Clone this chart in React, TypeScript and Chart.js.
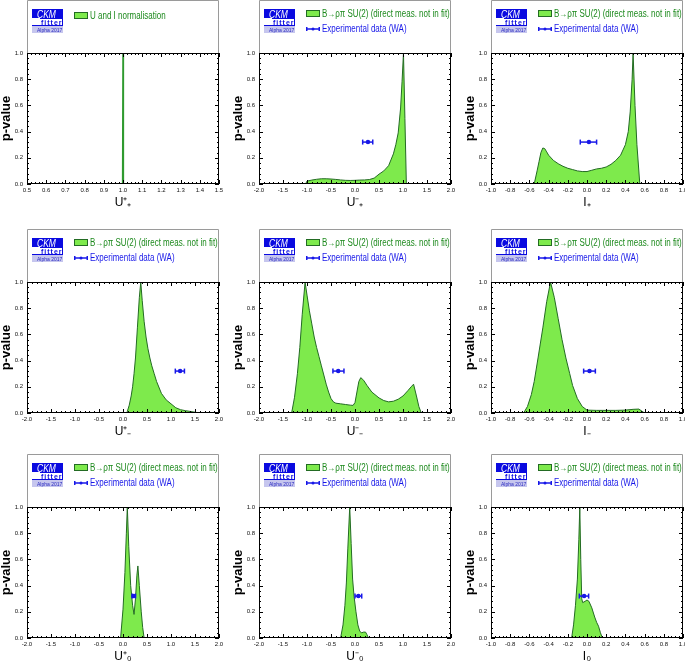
import React, { useEffect, useRef } from "react";
import { Chart, registerables } from "chart.js";

Chart.register(...registerables);
Chart.defaults.font.family = "'Liberation Sans', Arial, sans-serif";

// ---------- data ----------
const normX = [0.998, 1.0, 1.002];
const normY = [0, 1, 0];

const uMinusPlusX = [-1.03, -1.0, -0.9, -0.8, -0.7, -0.6, -0.5, -0.4, -0.3, -0.2, -0.1, 0.0, 0.1, 0.2, 0.3, 0.4, 0.5, 0.6, 0.7, 0.8, 0.85, 0.9, 0.95, 0.98, 1.01, 1.04, 1.07];
const uMinusPlusY = [0, 0.022, 0.03, 0.036, 0.04, 0.04, 0.038, 0.035, 0.031, 0.028, 0.027, 0.028, 0.03, 0.031, 0.034, 0.045, 0.075, 0.1, 0.14, 0.23, 0.3, 0.39, 0.58, 0.78, 1.0, 0.5, 0];

const iPlusX = [-0.55, -0.52, -0.5, -0.48, -0.46, -0.44, -0.42, -0.4, -0.35, -0.3, -0.25, -0.2, -0.15, -0.1, -0.05, 0.0, 0.05, 0.1, 0.15, 0.2, 0.25, 0.3, 0.35, 0.4, 0.43, 0.45, 0.47, 0.48, 0.5, 0.52, 0.55];
const iPlusY = [0, 0.1, 0.17, 0.24, 0.275, 0.27, 0.245, 0.22, 0.18, 0.155, 0.135, 0.12, 0.11, 0.1, 0.095, 0.095, 0.105, 0.115, 0.12, 0.13, 0.15, 0.18, 0.22, 0.3, 0.4, 0.55, 0.8, 1.0, 0.6, 0.3, 0];

const uPlusMinusX = [0.08, 0.13, 0.17, 0.2, 0.23, 0.26, 0.3, 0.34, 0.37, 0.4, 0.44, 0.48, 0.52, 0.56, 0.6, 0.65, 0.7, 0.8, 0.9, 1.0, 1.1, 1.2, 1.3, 1.4, 1.5, 1.6];
const uPlusMinusY = [0, 0.06, 0.13, 0.2, 0.3, 0.42, 0.65, 0.88, 1.0, 0.86, 0.7, 0.58, 0.49, 0.42, 0.36, 0.3, 0.24, 0.15, 0.1, 0.07, 0.04, 0.025, 0.018, 0.012, 0.006, 0];

const uMinusMinusX = [-1.32, -1.26, -1.2, -1.15, -1.1, -1.04, -1.0, -0.95, -0.9, -0.85, -0.8, -0.75, -0.7, -0.65, -0.6, -0.55, -0.5, -0.45, -0.4, -0.3, -0.2, -0.1, -0.04, 0.0, 0.04, 0.08, 0.12, 0.18, 0.25, 0.35, 0.5, 0.6, 0.7, 0.8, 0.9, 1.0, 1.1, 1.17, 1.22, 1.28, 1.33, 1.38];
const uMinusMinusY = [0, 0.12, 0.3, 0.5, 0.75, 1.0, 0.9, 0.78, 0.68, 0.58, 0.5, 0.43, 0.36, 0.29, 0.22, 0.16, 0.11, 0.085, 0.075, 0.07, 0.065, 0.06, 0.058, 0.08, 0.16, 0.24, 0.27, 0.25, 0.21, 0.16, 0.115, 0.095, 0.085, 0.09, 0.105, 0.13, 0.17, 0.2, 0.22, 0.13, 0.05, 0];

const iMinusX = [-0.66, -0.62, -0.58, -0.55, -0.51, -0.46, -0.42, -0.38, -0.34, -0.3, -0.26, -0.22, -0.18, -0.15, -0.1, -0.05, 0.0, 0.1, 0.2, 0.3, 0.4, 0.48, 0.54, 0.57, 0.6];
const iMinusY = [0, 0.05, 0.14, 0.24, 0.42, 0.65, 0.85, 1.0, 0.88, 0.72, 0.56, 0.42, 0.3, 0.21, 0.11, 0.05, 0.022, 0.02, 0.02, 0.02, 0.022, 0.028, 0.03, 0.015, 0];

const uPlusZeroX = [-0.05, 0.0, 0.04, 0.07, 0.09, 0.12, 0.16, 0.2, 0.23, 0.26, 0.29, 0.31, 0.34, 0.38, 0.41, 0.44];
const uPlusZeroY = [0, 0.22, 0.5, 0.8, 1.0, 0.7, 0.4, 0.25, 0.18, 0.3, 0.48, 0.55, 0.4, 0.2, 0.08, 0];

const uMinusZeroX = [-0.3, -0.25, -0.21, -0.18, -0.15, -0.11, -0.08, -0.05, -0.02, 0.02, 0.06, 0.1, 0.14, 0.18, 0.22, 0.25, 0.28];
const uMinusZeroY = [0, 0.1, 0.25, 0.42, 0.68, 1.0, 0.72, 0.45, 0.32, 0.2, 0.1, 0.05, 0.04, 0.045, 0.045, 0.025, 0];

const iZeroX = [-0.16, -0.14, -0.12, -0.1, -0.085, -0.075, -0.065, -0.055, -0.045, -0.02, 0.0, 0.02, 0.05, 0.08, 0.1, 0.12, 0.14, 0.16];
const iZeroY = [0, 0.1, 0.25, 0.45, 0.75, 1.0, 0.6, 0.3, 0.27, 0.28, 0.29, 0.28, 0.23, 0.16, 0.12, 0.09, 0.04, 0];

// experimental (WA) horizontal error bars
const expCenters = [null, 0.27, 0.02, 1.19, -0.35, 0.026, 0.22, 0.07, -0.03];
const expLows = [null, 0.16, -0.07, 1.09, -0.46, -0.035, 0.19, 0.0, -0.08];
const expHighs = [null, 0.37, 0.1, 1.28, -0.23, 0.087, 0.26, 0.14, 0.017];
const expLevel = 0.32;

// axes
const axisTitles = ["U⁺₊", "U⁻₊", "I₊", "U⁺₋", "U⁻₋", "I₋", "U⁺₀", "U⁻₀", "I₀"];
const xMins = [0.5, -2, -1, -2, -2, -1, -2, -2, -1];
const xMaxs = [1.5, 2, 1, 2, 2, 1, 2, 2, 1];
const xSteps = [0.1, 0.5, 0.2, 0.5, 0.5, 0.2, 0.5, 0.5, 0.2];
const yMin = 0;
const yMax = 1;
const yStep = 0.2;
const yTitle = "p-value";

// legend texts
const normLabel = "U and I normalisation";
const fitLabel = "B→ρπ SU(2) (direct meas. not in fit)";
const dataLabel = "Experimental data (WA)";
const logoTop = "CKM";
const logoMid = "fitter";
const logoBottom = "Alpha 2017";

const curvesX = [normX, uMinusPlusX, iPlusX, uPlusMinusX, uMinusMinusX, iMinusX, uPlusZeroX, uMinusZeroX, iZeroX];
const curvesY = [normY, uMinusPlusY, iPlusY, uPlusMinusY, uMinusMinusY, iMinusY, uPlusZeroY, uMinusZeroY, iZeroY];

// ---------- layout / style ----------
const PLOT_LEFTS = [27, 259, 491];
const PLOT_TOPS = [53, 282, 507];
const Y_AXIS_W = 27;
const X_AXIS_H = 30;
const LEG_H = 53;
const RIGHT_PAD = 8;
const PLOT_W = 192;
const PLOT_H = 131;
const CANVAS_W = Y_AXIS_W + PLOT_W + RIGHT_PAD;
const CANVAS_H = LEG_H + PLOT_H + X_AXIS_H;

const FILL = "rgb(126, 234, 76)";
const EDGE = "#236b23";
const BLUE = "#1818e8";
const GREEN_TEXT = "#1e8a1e";
const FONT = "'Liberation Sans', Arial, sans-serif";

function sqText(ctx: CanvasRenderingContext2D, text: string, x: number, y: number, sx: number) {
  ctx.save();
  ctx.translate(x, y);
  ctx.scale(sx, 1);
  ctx.fillText(text, 0, 0);
  ctx.restore();
}

function line(ctx: CanvasRenderingContext2D, x1: number, y1: number, x2: number, y2: number) {
  ctx.beginPath();
  ctx.moveTo(x1, y1);
  ctx.lineTo(x2, y2);
  ctx.stroke();
}

const decorPlugin = {
  id: "ckmDecor",
  afterDraw(chart: any, _args: any, opts: any) {
    const { ctx, chartArea: a } = chart;
    const xs = chart.scales.x;
    const ys = chart.scales.y;
    ctx.save();

    // legend-area frame
    ctx.strokeStyle = "#9a9a9a";
    ctx.lineWidth = 1;
    ctx.beginPath();
    ctx.moveTo(a.left + 0.5, a.top);
    ctx.lineTo(a.left + 0.5, 0.5);
    ctx.lineTo(a.right - 0.5, 0.5);
    ctx.lineTo(a.right - 0.5, a.top);
    ctx.stroke();

    // plot frame
    ctx.strokeStyle = "#000";
    ctx.strokeRect(a.left + 0.5, a.top + 0.5, a.width - 1, a.height - 1);

    // ROOT-like inward ticks
    ctx.lineWidth = 1;
    const xMinor = opts.xStep / 5;
    const nx = Math.round((opts.xMax - opts.xMin) / xMinor);
    for (let i = 0; i <= nx; i++) {
      const v = opts.xMin + i * xMinor;
      const px = Math.round(xs.getPixelForValue(v)) + 0.5;
      const len = i % 5 === 0 ? 4 : 2;
      line(ctx, px, a.bottom, px, a.bottom - len);
      line(ctx, px, a.top, px, a.top + len);
    }
    const yMinor = yStep / 5;
    const ny = Math.round((yMax - yMin) / yMinor);
    for (let i = 0; i <= ny; i++) {
      const v = yMin + i * yMinor;
      const py = Math.round(ys.getPixelForValue(v)) + 0.5;
      const len = i % 5 === 0 ? 4 : 2;
      line(ctx, a.left, py, a.left + len, py);
      line(ctx, a.right, py, a.right - len, py);
    }

    // legend: logo
    ctx.save();
    ctx.beginPath();
    ctx.rect(0, 0, a.right - 1, a.top);
    ctx.clip();
    const lx = a.left + 5;
    const ly = 9;
    const lw = 31;
    ctx.fillStyle = "#0a0ae0";
    ctx.fillRect(lx, ly, lw, 9);
    ctx.fillStyle = "#fff";
    ctx.font = `italic 10px ${FONT}`;
    ctx.textBaseline = "alphabetic";
    sqText(ctx, logoTop, lx + 5, ly + 8.5, 0.85);
    // fitter row
    ctx.fillStyle = "#fff";
    ctx.fillRect(lx, ly + 9, lw, 8);
    ctx.strokeStyle = "#0a0ae0";
    ctx.lineWidth = 1;
    line(ctx, lx + 8, ly + 9.5, lx + lw, ly + 9.5);
    line(ctx, lx, ly + 16.5, lx + lw, ly + 16.5);
    line(ctx, lx + lw - 0.5, ly + 9, lx + lw - 0.5, ly + 17);
    ctx.fillStyle = "#0a0ae0";
    ctx.font = `bold 7px ${FONT}`;
    (ctx as any).letterSpacing = "1px";
    ctx.fillText(logoMid, lx + 9, ly + 15.5);
    (ctx as any).letterSpacing = "0px";
    // alpha row
    ctx.fillStyle = "#c6c6ee";
    ctx.fillRect(lx, ly + 17, lw, 7);
    ctx.fillStyle = "#2b2bc0";
    ctx.font = `5px ${FONT}`;
    ctx.fillText(logoBottom, lx + 5, ly + 22.5);

    // legend entries
    const bx = a.left + 47;
    const tx = a.left + 63;
    ctx.textBaseline = "middle";
    ctx.font = `10px ${FONT}`;
    if (opts.kind === "norm") {
      ctx.fillStyle = FILL;
      ctx.fillRect(bx, 12, 14, 7);
      ctx.strokeStyle = EDGE;
      ctx.strokeRect(bx + 0.5, 12.5, 13, 6);
      ctx.fillStyle = GREEN_TEXT;
      sqText(ctx, normLabel, tx, 16, 0.8);
    } else {
      ctx.fillStyle = FILL;
      ctx.fillRect(bx, 10, 14, 7);
      ctx.strokeStyle = EDGE;
      ctx.strokeRect(bx + 0.5, 10.5, 13, 6);
      ctx.fillStyle = GREEN_TEXT;
      sqText(ctx, fitLabel, tx, 14, 0.8);
      // error bar symbol
      ctx.strokeStyle = BLUE;
      ctx.lineWidth = 1.5;
      line(ctx, bx, 29, bx + 14, 29);
      line(ctx, bx + 0.75, 27, bx + 0.75, 31);
      line(ctx, bx + 13.25, 27, bx + 13.25, 31);
      ctx.fillStyle = BLUE;
      ctx.beginPath();
      ctx.arc(bx + 7, 29, 1.5, 0, Math.PI * 2);
      ctx.fill();
      sqText(ctx, dataLabel, tx, 29, 0.8);
    }
    ctx.restore();
    ctx.restore();
  },
};

function buildConfig(i: number): any {
  const curve = curvesX[i].map((x, k) => ({ x, y: curvesY[i][k] }));
  const datasets: any[] = [];
  if (expCenters[i] !== null) {
    datasets.push({
      label: dataLabel,
      data: [
        { x: expLows[i], y: expLevel },
        { x: expCenters[i], y: expLevel },
        { x: expHighs[i], y: expLevel },
      ],
      borderColor: BLUE,
      backgroundColor: BLUE,
      borderWidth: 1.5,
      showLine: true,
      fill: false,
      pointStyle: ["line", "circle", "line"],
      pointRadius: [2.5, 1.5, 2.5],
      pointRotation: 90,
      pointBorderColor: BLUE,
      pointBackgroundColor: BLUE,
      pointBorderWidth: 1.5,
      order: 0,
    });
  }
  datasets.push({
    label: i === 0 ? normLabel : fitLabel,
    data: curve,
    borderColor: i === 0 ? "#2f9a2f" : EDGE,
    backgroundColor: FILL,
    borderWidth: i === 0 ? 1.5 : 1,
    fill: "origin",
    pointRadius: 0,
    tension: 0,
    order: 1,
  });

  return {
    type: "line",
    data: { datasets },
    plugins: [decorPlugin],
    options: {
      animation: false,
      responsive: false,
      maintainAspectRatio: false,
      layout: { padding: { top: LEG_H, right: RIGHT_PAD, left: 0, bottom: 0 } },
      plugins: {
        legend: { display: false },
        tooltip: { enabled: false },
        ckmDecor: { xMin: xMins[i], xMax: xMaxs[i], xStep: xSteps[i], kind: i === 0 ? "norm" : "fit" },
      },
      scales: {
        x: {
          type: "linear",
          min: xMins[i],
          max: xMaxs[i],
          grid: { display: false, drawTicks: false },
          border: { display: false },
          ticks: {
            stepSize: xSteps[i],
            autoSkip: false,
            maxRotation: 0,
            padding: 3,
            color: "#111",
            font: { size: 6 },
            callback: (v: any) => Number(v).toFixed(1),
          },
          title: {
            display: true,
            text: axisTitles[i],
            color: "#000",
            font: { size: 12 },
            padding: { top: 0, bottom: 4 },
          },
          afterFit: (s: any) => {
            s.height = X_AXIS_H;
          },
        },
        y: {
          type: "linear",
          min: yMin,
          max: yMax,
          grid: { display: false, drawTicks: false },
          border: { display: false },
          ticks: {
            stepSize: yStep,
            padding: 4,
            color: "#111",
            font: { size: 6 },
            callback: (v: any) => Number(v).toFixed(1),
          },
          title: {
            display: true,
            text: yTitle,
            color: "#000",
            font: { size: 13, weight: "bold" },
            padding: { top: -1, bottom: 0 },
          },
          afterFit: (s: any) => {
            s.width = Y_AXIS_W;
          },
        },
      },
    },
  };
}

export default function App() {
  const refs = useRef<(HTMLCanvasElement | null)[]>([]);
  useEffect(() => {
    const charts = curvesX.map((_, i) => new Chart(refs.current[i] as HTMLCanvasElement, buildConfig(i)));
    return () => {
      charts.forEach((c) => c.destroy());
    };
  }, []);
  return (
    <div style={{ position: "absolute", left: 0, top: 0, width: 685, height: 666, overflow: "hidden", background: "#fff" }}>
      {curvesX.map((_, i) => {
        const col = i % 3;
        const row = Math.floor(i / 3);
        return (
          <canvas
            key={i}
            ref={(el) => {
              refs.current[i] = el;
            }}
            width={CANVAS_W}
            height={CANVAS_H}
            style={{
              position: "absolute",
              left: PLOT_LEFTS[col] - Y_AXIS_W,
              top: PLOT_TOPS[row] - LEG_H,
              width: CANVAS_W,
              height: CANVAS_H,
            }}
          />
        );
      })}
    </div>
  );
}
